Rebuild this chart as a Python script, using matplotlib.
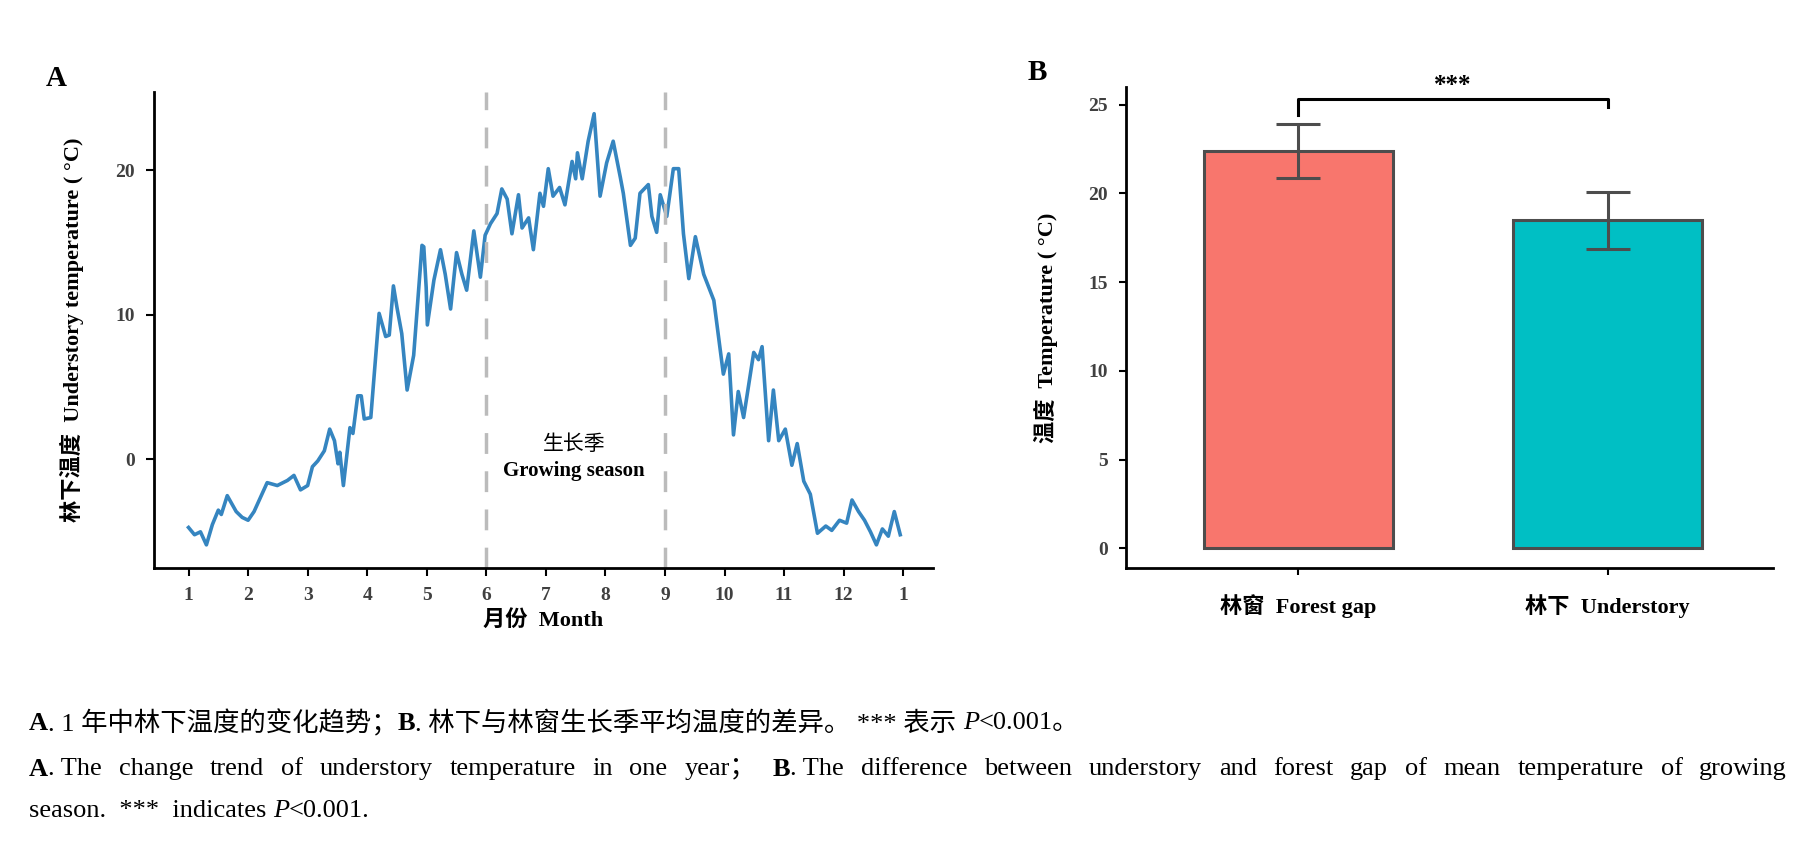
import matplotlib
matplotlib.use("Agg")
import matplotlib.pyplot as plt

plt.rcParams['font.family'] = ['Liberation Serif', 'Noto Sans CJK SC']

# Panel A data: month position, understory temperature (°C)
month = [1.0, 1.1, 1.2, 1.3, 1.4, 1.5, 1.55, 1.65, 1.8, 1.9, 2.0, 2.1, 2.32, 2.49, 2.66, 2.77, 2.88,
         3.0, 3.08, 3.17, 3.28, 3.37, 3.45, 3.51, 3.54, 3.6, 3.71, 3.76, 3.84, 3.9, 3.95, 4.06,
         4.2, 4.31, 4.37, 4.44, 4.5, 4.58, 4.67, 4.78, 4.92, 4.95, 4.99, 5.01, 5.12, 5.23, 5.31,
         5.4, 5.5, 5.59, 5.67, 5.79, 5.9, 5.98, 6.07, 6.18, 6.26, 6.35, 6.43, 6.54, 6.6, 6.71,
         6.79, 6.9, 6.96, 7.04, 7.12, 7.23, 7.32, 7.44, 7.5, 7.53, 7.61, 7.71, 7.81, 7.91, 8.02,
         8.13, 8.25, 8.3, 8.42, 8.5, 8.58, 8.72, 8.78, 8.86, 8.92, 9.03, 9.14, 9.23, 9.31, 9.4,
         9.51, 9.65, 9.82, 9.98, 10.07, 10.15, 10.23, 10.32, 10.49, 10.57, 10.63, 10.74, 10.82,
         10.91, 11.02, 11.13, 11.22, 11.33, 11.44, 11.56, 11.7, 11.8, 11.93, 12.05, 12.14, 12.25,
         12.35, 12.45, 12.55, 12.65, 12.75, 12.85, 12.95]
temp = [-4.7, -5.2, -5.0, -5.9, -4.5, -3.5, -3.8, -2.5, -3.6, -4.0, -4.2, -3.6, -1.6, -1.8, -1.45, -1.1, -2.1,
        -1.8, -0.5, -0.1, 0.6, 2.1, 1.3, -0.3, 0.5, -1.8, 2.2, 1.8, 4.4, 4.4, 2.8, 2.9,
        10.1, 8.5, 8.6, 12.0, 10.5, 8.7, 4.8, 7.2, 14.8, 14.7, 11.9, 9.3, 12.4, 14.5, 12.8,
        10.4, 14.3, 12.8, 11.7, 15.8, 12.6, 15.5, 16.3, 17.0, 18.7, 18.0, 15.6, 18.3, 16.0, 16.7,
        14.5, 18.4, 17.5, 20.1, 18.2, 18.8, 17.6, 20.6, 19.4, 21.2, 19.4, 22.0, 23.9, 18.2, 20.5,
        22.0, 19.5, 18.4, 14.8, 15.3, 18.4, 19.0, 16.8, 15.7, 18.3, 16.8, 20.1, 20.1, 15.6, 12.5,
        15.4, 12.8, 11.0, 5.9, 7.3, 1.7, 4.7, 2.9, 7.4, 6.9, 7.8, 1.3, 4.8,
        1.3, 2.1, -0.4, 1.1, -1.5, -2.4, -5.1, -4.6, -4.9, -4.2, -4.4, -2.8, -3.6,
        -4.2, -5.0, -5.9, -4.8, -5.3, -3.6, -5.2]
month_ticks = list(range(1, 14))
month_labels = [str(i) for i in range(1, 13)] + ['1']
season_bounds = [6, 9]

# Panel B data
groups = ['林窗  Forest gap', '林下  Understory']
means = [22.4, 18.5]
errs = [1.5, 1.6]
bar_colors = ['#F8766D', '#00BFC4']

W, H = 1809, 850
fig = plt.figure(figsize=(W / 100, H / 100), dpi=100)

def ax_rect(l, r, t, b):
    return [l / W, 1 - b / H, (r - l) / W, (b - t) / H]

tick_col = '#404040'
# ---- Panel A
axA = fig.add_axes(ax_rect(154, 933, 92, 568))
axA.plot(month, temp, color='#3585C0', lw=2.6)
for s in season_bounds:
    axA.axvline(s, color='#BBBBBB', lw=2.5, dashes=(6, 5))
axA.set_xlim(0.42, 13.5)
axA.set_ylim(-7.5, 25.4)
axA.set_xticks(month_ticks)
axA.set_xticklabels(month_labels)
axA.set_yticks([0, 10, 20])
for sp in ['top', 'right']:
    axA.spines[sp].set_visible(False)
for sp in ['left', 'bottom']:
    axA.spines[sp].set_linewidth(2)
axA.tick_params(axis='both', width=1.5, length=6, labelsize=14, colors=tick_col, pad=8)
axA.tick_params(axis='both', color='black')
for lab in axA.get_xticklabels() + axA.get_yticklabels():
    lab.set_fontweight('bold')
axA.set_xlabel('月份  Month', fontsize=16, fontweight='bold', labelpad=4)
axA.set_ylabel('林下温度  Understory temperature ( °C)', fontsize=16, fontweight='bold', labelpad=22)
axA.text(7.47, 1.0, '生长季', ha='center', va='center', fontsize=15)
axA.text(7.47, -0.8, 'Growing season', ha='center', va='center', fontsize=15, fontweight='bold')
fig.text(46 / W, 1 - 79 / H, 'A', fontsize=21, fontweight='bold', va='center')

# ---- Panel B
axB = fig.add_axes(ax_rect(1126, 1773, 87, 568))
x = [0, 1]
axB.bar(x, means, width=0.61, color=bar_colors, edgecolor='#4D4D4D', linewidth=2.2)
axB.errorbar(x, means, yerr=errs, fmt='none', ecolor='#4D4D4D', elinewidth=2.2, capsize=16, capthick=2.2)
axB.plot([0, 0, 1, 1], [24.4, 25.3, 25.3, 24.9], color='black', lw=2.2)
axB.text(0.5, 25.45, '***', ha='center', va='bottom', fontsize=18, fontweight='bold')
axB.set_xlim(-0.556, 1.534)
axB.set_ylim(-1.1, 26.0)
axB.set_xticks(x)
axB.set_xticklabels(groups)
axB.set_yticks([0, 5, 10, 15, 20, 25])
for sp in ['top', 'right']:
    axB.spines[sp].set_visible(False)
for sp in ['left', 'bottom']:
    axB.spines[sp].set_linewidth(2)
axB.tick_params(axis='both', width=1.5, length=5, labelsize=14, pad=8)
axB.tick_params(axis='x', labelsize=16, pad=14)
for lab in axB.get_xticklabels() + axB.get_yticklabels():
    lab.set_fontweight('bold')
for lab in axB.get_yticklabels():
    lab.set_color(tick_col)
axB.set_ylabel('温度  Temperature ( °C)', fontsize=16, fontweight='bold', labelpad=22)
fig.text(1028 / W, 1 - 72 / H, 'B', fontsize=21, fontweight='bold', va='center')

# ---- Caption (pieces drawn in sequence)
cap = 19
renderer = fig.canvas.get_renderer()

def draw_line(pieces, y_px, x0=29, justify_to=None):
    # pieces: list of (text, weight, style)
    items = []
    for txt, wt, st in pieces:
        t = fig.text(0, 0, txt, fontsize=cap, fontweight=wt, fontstyle=st, va='center')
        w = t.get_window_extent(renderer).width
        items.append((t, w))
    gap = 0
    if justify_to is not None:
        total = sum(w for _, w in items)
        gap = (justify_to - x0 - total) / max(len(items) - 1, 1)
    x = x0
    for t, w in items:
        t.set_position((x / W, 1 - y_px / H))
        x += w + gap

N, B, I = 'normal', 'bold', 'italic'
draw_line([('A', B, N), ('. 1 年中林下温度的变化趋势；', N, N), ('B', B, N),
           ('. 林下与林窗生长季平均温度的差异。 *** 表示 ', N, N), ('P', N, I), ('<0.001。', N, N)], 723)

words2 = [('A', B, N), ('. The', N, N)] + [(w, N, N) for w in
          'change trend of understory temperature in one year；'.split()] + \
         [('B', B, N), ('. The', N, N)] + [(w, N, N) for w in
          'difference between understory and forest gap of mean temperature of growing'.split()]
# merge bold letter with following punctuation for justification
merged = []
i = 0
while i < len(words2):
    if words2[i][0] in ('A', 'B') and words2[i][1] == B:
        merged.append([words2[i], words2[i + 1]])
        i += 2
    else:
        merged.append([words2[i]])
        i += 1
# draw justified words
items = []
for grp in merged:
    ws = []
    for txt, wt, st in grp:
        t = fig.text(0, 0, txt.lstrip(), fontsize=cap, fontweight=wt, fontstyle=st, va='center')
        ws.append((t, t.get_window_extent(renderer).width))
    items.append(ws)
total = sum(w for g in items for _, w in g)
gap = (1787 - 29 - total) / (len(items) - 1)
xx = 29
for g in items:
    for t, w in g:
        t.set_position((xx / W, 1 - 769 / H))
        xx += w
    xx += gap

draw_line([('season.  ***  indicates ', N, N), ('P', N, I), ('<0.001.', N, N)], 811)

fig.savefig('out.png', dpi=100)
